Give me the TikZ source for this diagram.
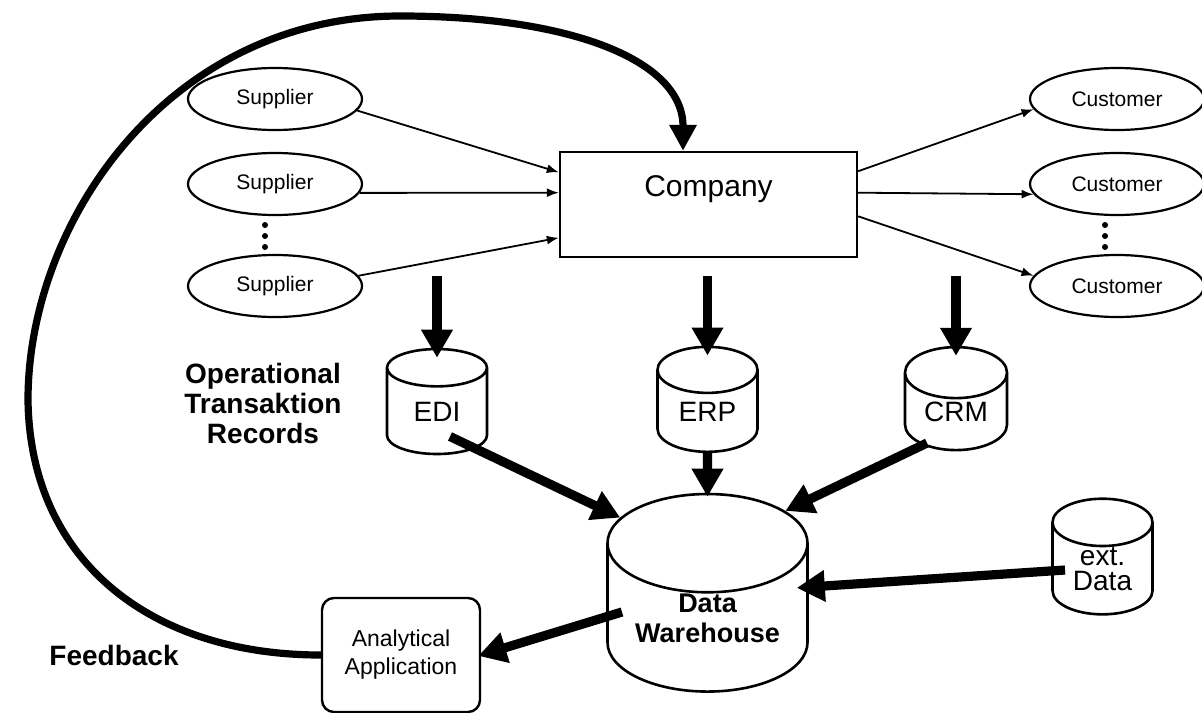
\documentclass[tikz,border=0pt]{standalone}
\usepackage{fontspec}
\setmainfont{Liberation Sans}
\usetikzlibrary{shapes.geometric,arrows.meta,calc}
\tikzset{
  party/.style={ellipse, draw, line width=1.1pt, minimum width=87pt, minimum height=31pt, inner sep=0pt, font=\fontsize{10.5}{12}\selectfont},
  store/.style={cylinder, shape border rotate=90, draw, line width=1.3pt, shape aspect=0.8, inner sep=0pt, font=\fontsize{14}{15}\selectfont},
  flow/.style={line width=0.9pt, -{Latex[length=6pt,width=4.5pt]}},
  fat/.style={line width=4.6pt, -{Triangle[length=14pt,width=15pt]}},
}

\begin{document}
\begin{tikzpicture}[x=0.5pt,y=-0.5pt]
  \useasboundingbox (0,0) rectangle (1202,712);
  \node[party] (sup1)  at ( 275,  99) {Supplier};
  \node[party] (sup2)  at ( 275, 184) {Supplier};
  \node[party] (sup3)  at ( 275, 286) {Supplier};
  \node[party] (cust1) at (1117,  99) {Customer};
  \node[party] (cust2) at (1117, 184) {Customer};
  \node[party] (cust3) at (1117, 286) {Customer};
  \foreach \y in {225,236,247} {
    \fill ( 265,\y) circle (1.5pt);
    \fill (1105,\y) circle (1.5pt);
  }
  \node[draw, line width=1.2pt, inner sep=0pt, text width=148.5pt, align=center,
        text height=22pt, text depth=30.5pt, font=\fontsize{15}{18}\selectfont] (company) at (708.5,204.5) {Company};

  \node[store, minimum width=50pt,  minimum height=52.5pt]  (edi) at ( 437, 411.5) {EDI};
  \node[store, minimum width=50pt,  minimum height=52.5pt]  (erp) at (707.5,411.5) {ERP};
  \node[store, minimum width=51pt,  minimum height=51.5pt]  (crm) at ( 956, 412)   {CRM};
  \node[store, minimum width=100pt, minimum height=90pt, shape aspect=0.68, align=center,
        font=\bfseries\fontsize{13.5}{15}\selectfont]      (dw)  at (707.5,618)   {Data\\Warehouse};
  \node[store, minimum width=50pt,  minimum height=51.5pt, align=center,
        font=\fontsize{14}{12.5}\selectfont]               (ext) at (1102.5,569) {ext.\\Data};
  \node[draw, rounded corners=6pt, line width=1.2pt, minimum width=79pt, minimum height=57pt, align=center,
        font=\fontsize{11.5}{14}\selectfont]               (aa)  at ( 401, 655)   {Analytical\\Application};

  \node[font=\bfseries\fontsize{14}{15}\selectfont, align=center] (ops) at (263,403) {Operational\\Transaktion\\Records};
  \node[font=\bfseries\fontsize{14}{16}\selectfont]               (fb)  at (114,655) {Feedback};

  \draw[flow] (sup1.-8) -- ($(company.north west)!0.20!(company.south west)$);
  \draw[flow] (sup2.-6) -- ($(company.north west)!0.39!(company.south west)$);
  \draw[flow] (sup3.7)  -- ($(company.north west)!0.81!(company.south west)$);
  \draw[flow] ($(company.north east)!0.19!(company.south east)$) -- (cust1.-173);
  \draw[flow] ($(company.north east)!0.39!(company.south east)$) -- (cust2.-173);
  \draw[flow] ($(company.north east)!0.61!(company.south east)$) -- (cust3.173);

  \draw[fat, shorten <=9pt, shorten >=-5pt] (edi.north |- company.south) -- (edi.north);
  \draw[fat, shorten <=9pt, shorten >=-5pt] (erp.north |- company.south) -- (erp.north);
  \draw[fat, shorten <=9pt, shorten >=-5pt] (crm.north |- company.south) -- (crm.north);
  \draw[fat] ($(edi.center)+(13,25)$) -- (dw.131);
  \draw[fat, shorten >=-2pt] (erp.south) -- (dw.north);
  \draw[fat] ($(crm.center)+(-29,31)$) -- (dw.54);
  \draw[fat, shorten >=-6pt] ($(ext.center)+(-37.5,1)$) -- (dw.17);
  \draw[fat, shorten >=-1.5pt] ($(dw.center)+(-85.5,-6)$) -- (aa.east);

  \draw[line width=3.6pt, -{Triangle[length=13pt,width=13pt]}]
    (aa.west) .. controls (150,655) and (30,560) .. (28,400)
              .. controls (28,220) and (170,16) .. (400,16)
              .. controls (570,16) and (683,60) .. ([xshift=-12.75pt]company.north);
\end{tikzpicture}
\end{document}
